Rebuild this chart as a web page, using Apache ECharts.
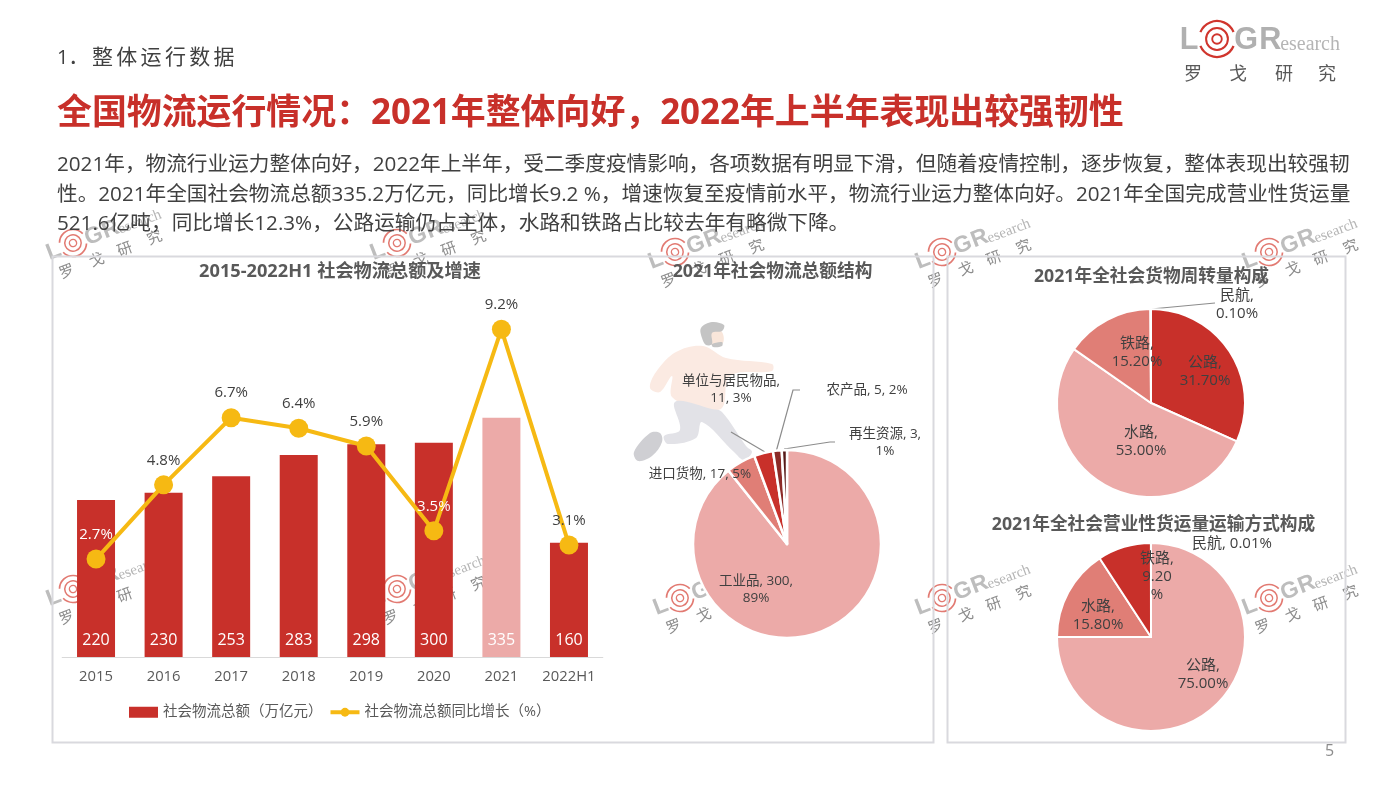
<!DOCTYPE html>
<html><head><meta charset="utf-8">
<style>html,body{margin:0;padding:0;background:#fff}#c{width:1400px;height:788px}</style>
<script src="https://cdn.jsdelivr.net/npm/echarts@6/dist/echarts.min.js"></script>
</head><body><div id="c"></div>
<script>
const FONT='"Open Sans","Noto Sans CJK SC",sans-serif';
const categories=['2015','2016','2017','2018','2019','2020','2021','2022H1'];
const totals=[220,230,253,283,298,300,335,160];
const growth=[2.7,4.8,6.7,6.4,5.9,3.5,9.2,3.1];
const structNames=['工业品','进口货物','单位与居民物品','农产品','再生资源'];
const structValues=[300,17,11,5,3];
const structLabels=['工业品, 300,\n89%','进口货物, 17, 5%','单位与居民物品,\n11, 3%','农产品, 5, 2%','再生资源, 3,\n1%'];
const turnoverNames=['公路','水路','铁路','民航'];
const turnoverValues=[31.7,53.0,15.2,0.1];
const turnoverLabels=['公路,\n31.70%','水路,\n53.00%','铁路,\n15.20%','民航,\n0.10%'];
const freightNames=['公路','水路','铁路','民航'];
const freightValues=[75.0,15.8,9.2,0.01];
const freightLabels=['公路,\n75.00%','水路,\n15.80%','铁路,\n9.20\n%','民航, 0.01%'];
const bodyLines=[
 '2021年，物流行业运力整体向好，2022年上半年，受二季度疫情影响，各项数据有明显下滑，但随着疫情控制，逐步恢复，整体表现出较强韧',
 '性。2021年全国社会物流总额335.2万亿元，同比增长9.2 %，增速恢复至疫情前水平，物流行业运力整体向好。2021年全国完成营业性货运量',
 '521.6亿吨，同比增长12.3%，公路运输仍占主体，水路和铁路占比较去年有略微下降。'];

const RED='#c8302a',PINK='#ecaaa8',MID='#e07e76',DARK='#8c2b28',DARKER='#571a18',YEL='#f6b913';
// label anchor positions (page px) per pie
const labelPos=[
 [[756,590],[700,474],[731,390],[867,390],[885,443]],
 [[1205,372],[1141,442],[1137,353],[1237,305]],
 [[1203,675],[1098,616],[1157,577],[1232,544]]];
const guide=[
 [null,null,[[731,432],[765,452]],[[800,390],[793,390],[776,452]],[[835,442],[830,442],[784,449]]],
 [null,null,null,[[1215,303],[1151,309]]],
 [null,null,null,null]];

function pie(idx,names,vals,labels,colors,center){
  return {type:'pie',radius:94,center:center,clockwise:true,startAngle:90,avoidLabelOverlap:false,minShowLabelAngle:0,
    z:3,
    data:names.map((n,i)=>({name:n,value:vals[i],itemStyle:{color:colors[i]},
      label:{formatter:labels[i]},labelLine:{show:!!guide[idx][i]}})),
    itemStyle:{borderColor:'#fff',borderWidth:idx===0?2.5:2},
    label:{show:true,position:'outside',color:'#404040',fontSize:idx===0?13.5:15,lineHeight:idx===0?17:18,fontFamily:FONT,align:'center'},
    labelLine:{show:true,lineStyle:{color:'#8c8c8c',width:1.2}},
    emphasis:{disabled:true},
    labelLayout:function(p){
      const q=labelPos[idx][p.dataIndex],g=guide[idx][p.dataIndex];
      const o={x:q[0],y:q[1],align:'center',verticalAlign:'middle'};
      if(g)o.labelLinePoints=g.length===3?g:[g[0],g[0],g[1]];
      return o;
    }};
}
function T(text,x,y,size,color,extra){
  return {type:'text',z:10,x:x,y:y,silent:true,style:Object.assign({text:text,fill:color,font:size+'px '+FONT,textAlign:'left',textVerticalAlign:'middle'},extra||{})};
}
function logo(cx,cy,k,rotDeg,op,showCn,cnOff){
  const c=[];const gray=op<1?'#bdbdbd':'#b0b0b0',red=op<1?'#e27a72':'#d0352d';
  const ring=(r,w)=>({type:'circle',z:0,shape:{cx:0,cy:0,r:r*k},style:{fill:'none',stroke:red,lineWidth:w*k}});
  const arc=(s,e)=>({type:'arc',z:0,shape:{cx:0,cy:0,r:13.5*k,startAngle:s,endAngle:e},style:{fill:'none',stroke:red,lineWidth:1.7*k}});
  c.push(ring(3.6,1.4),ring(8.2,1.5),arc(-2.75,-0.4),arc(0.4,2.75));
  const t=(s,x,y,size,col,weight,fam)=>({type:'text',z:0,x:x*k,y:y*k,style:{text:s,fill:col,font:(weight||'normal')+' '+(size*k)+'px '+(fam||FONT),textAlign:'center',textVerticalAlign:'middle'}});
  c.push(t('L',-21,1,23,gray,'900','"Liberation Sans"'),t('G',22,1,23,gray,'900','"Liberation Sans"'),t('R',40,1,23,gray,'900','"Liberation Sans"'));
  c.push({type:'text',z:0,x:47.5*k,y:4.5*k,style:{text:'esearch',fill:'#b5b5b5',font:(15*k)+'px "Liberation Serif"',textAlign:'left',textVerticalAlign:'middle'}});
  if(showCn){
    cnOff.forEach((u,i)=>c.push(t('罗戈研究'[i],u,25,showCn,'#8c8c8c')));
  }
  return {type:'group',x:cx,y:cy,rotation:rotDeg*Math.PI/180,z:0,children:c,silent:true};
}
const marks=[[73,243],[397,243],[675,252],[942,252],[1269,252],[73,589],[397,589],[680,598],[942,598],[1269,598]];
const blob=(pts,fill)=>({type:'polygon',z:0,shape:{points:pts,smooth:0.35},style:{fill:fill}});
const runner={type:'group',z:0,silent:true,children:[
  blob([[650,388],[656,372],[676,352],[703,346],[726,358],[772,364],[772,371],[730,376],[722,408],[700,408],[672,397],[672,376],[660,392]],'#fbeae2'),
  blob([[675,402],[712,409],[722,412],[746,446],[752,452],[744,460],[734,452],[702,422],[696,438],[668,444],[664,436],[680,430]],'#e2e2e7'),
  blob([[650,433],[660,433],[662,442],[652,456],[638,461],[634,452]],'#cfcfd3'),
  blob([[712,326],[722,332],[723,343],[714,346],[708,340]],'#f9e6da'),
  blob([[702,338],[701,328],[712,322],[724,325],[722,331],[712,333],[712,344],[706,345]],'#c4c4c4'),
  blob([[712,344],[722,342],[722,346],[713,347]],'#c4c4c4')
]};
const graphics=[
  ...marks.map(m=>logo(m[0],m[1],1,21,.9,15,[-16,16,46,78])),
  runner,
  {type:'rect',z:1,silent:true,shape:{x:52.5,y:256.5,width:881,height:486},style:{fill:'none',stroke:'#d9d9de',lineWidth:2}},
  {type:'rect',z:1,silent:true,shape:{x:947.5,y:256.5,width:398,height:486},style:{fill:'none',stroke:'#d9d9de',lineWidth:2}},
  logo(1217,39,1.33,0,1,0),
  ...['罗','戈','研','究'].map((s,i)=>T(s,[1184,1229,1275,1318][i],75,18,'#595959')),
  T('1．',57,58,20,'#404040'),
  ...'整体运行数据'.split('').map((s,i)=>T(s,92+i*24.3,58,21,'#404040')),
  T('全国物流运行情况：2021年整体向好，2022年上半年表现出较强韧性',57,114,34.9,RED,{font:'bold 34.9px '+FONT}),
  T(bodyLines[0],57,165.5,20.66,'#404040'),
  T(bodyLines[1],57,195,20.66,'#404040'),
  T(bodyLines[2],57,224.5,20.66,'#404040'),
  T('5',1325,751,16,'#8c8c8c'),
];
function title(text,cx,y,size){return {text:text,left:cx,top:y,textAlign:'center',textVerticalAlign:'middle',textStyle:{fontFamily:FONT,fontWeight:'bold',fontSize:size,color:'#595959'}};}

const labelColors=['#fff','#404040','#404040','#404040','#404040','#fff','#404040','#404040'];
const chart=echarts.init(document.getElementById('c'));
chart.setOption({
  animation:false,backgroundColor:'#fff',
  textStyle:{fontFamily:FONT},
  title:[title('2015-2022H1 社会物流总额及增速',335,266.5,18.2),title('2021年社会物流总额结构',767.5,266.5,17.7),title('2021年全社会货物周转量构成',1146.5,271.5,17.7),title('2021年全社会营业性货运量运输方式构成',1148.5,520,17.7)],
  graphic:graphics,
  grid:{left:62.25,top:300,width:540.5,height:357},
  legend:{data:[{name:'社会物流总额（万亿元）',icon:'rect'},{name:'社会物流总额同比增长（%）'}],left:124,top:700,itemGap:6,itemWidth:29,itemHeight:11,
    lineStyle:{width:4},
    textStyle:{fontSize:14.5,color:'#595959',fontFamily:FONT}},
  xAxis:{type:'category',data:categories,axisTick:{show:false},axisLine:{lineStyle:{color:'#d9d9d9',width:1.2}},
    axisLabel:{interval:0,fontSize:14.8,color:'#595959',margin:12.5,fontFamily:FONT}},
  yAxis:[{type:'value',min:0,max:500,show:false},{type:'value',min:-0.07,max:10.03,show:false}],
  series:[
    {name:'社会物流总额（万亿元）',type:'bar',barWidth:38,itemStyle:{color:RED},
      data:totals.map((v,i)=>categories[i]==='2021'?{value:v,itemStyle:{color:PINK}}:v),
      label:{show:true,position:'insideBottom',distance:9,color:'#fff',fontSize:16,fontFamily:FONT}},
    {name:'社会物流总额同比增长（%）',type:'line',yAxisIndex:1,symbol:'circle',symbolSize:19,lineStyle:{color:YEL,width:4},itemStyle:{color:YEL},z:4,
      data:growth.map((v,i)=>({value:v,label:{color:labelColors[i]}})),
      label:{show:true,position:'top',distance:7.5,fontSize:15,fontFamily:FONT,formatter:p=>p.value.toFixed(1)+'%'}},
    pie(0,structNames,structValues,structLabels,[PINK,MID,RED,DARK,DARKER],[787,544]),
    pie(1,turnoverNames,turnoverValues,turnoverLabels,[RED,PINK,MID,'#bfbfbf'],[1151,403]),
    pie(2,freightNames,freightValues,freightLabels,[PINK,MID,RED,'#bfbfbf'],[1151,637]),
  ]
});
</script></body></html>
